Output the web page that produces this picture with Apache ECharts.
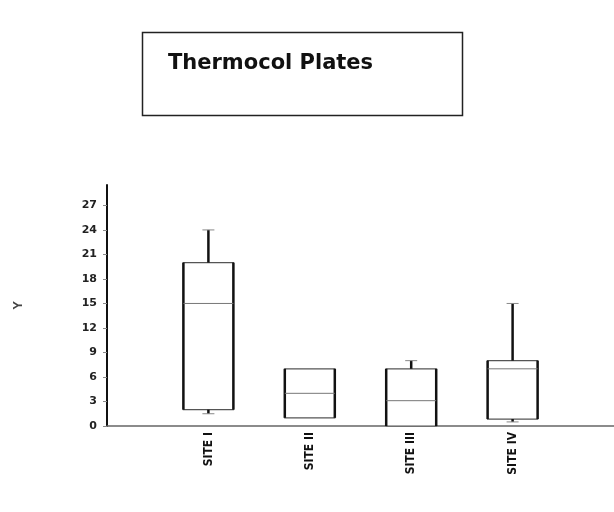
<!DOCTYPE html>
<html>
<head>
<meta charset="utf-8">
<script src="https://cdn.jsdelivr.net/npm/echarts@6/dist/echarts.min.js"></script>
<style>
  html, body { margin: 0; padding: 0; background: #fff; }
  #chart { width: 614px; height: 512px; }
</style>
</head>
<body>
<div id="chart"></div>
<script>
var chartDom = document.getElementById('chart');
var myChart = echarts.init(chartDom);

// blank slots at both ends so the sites sit where they do in the picture
var categories = ['', 'SITE I', 'SITE II', 'SITE III', 'SITE IV', ''];
var siteIndex = [1, 2, 3, 4];
var whiskerLow = [1.5, 1, 0, 0.5];
var q1 = [2, 1, 0, 0.85];
var median = [15, 4, 3.1, 7];
var q3 = [20, 7, 7, 8];
var whiskerHigh = [24, 7, 8, 15];
var yTicks = [0, 3, 6, 9, 12, 15, 18, 21, 24, 27];

var boxData = [];
for (var i = 0; i < siteIndex.length; i++) {
  boxData.push([siteIndex[i], whiskerLow[i], q1[i], median[i], q3[i], whiskerHigh[i]]);
}

function renderBox(params, api) {
  var x = api.value(0);
  var pLow = api.coord([x, api.value(1)]);
  var pQ1 = api.coord([x, api.value(2)]);
  var pMed = api.coord([x, api.value(3)]);
  var pQ3 = api.coord([x, api.value(4)]);
  var pHigh = api.coord([x, api.value(5)]);
  var cx = pQ1[0];
  var half = 25;
  var cap = 6;
  var kids = [
    { type: 'rect', shape: { x: cx - half, y: pQ3[1], width: half * 2, height: pQ1[1] - pQ3[1] },
      style: { fill: '#fff', stroke: '#555', lineWidth: 1.2 } },
    { type: 'line', shape: { x1: cx - half, y1: pQ3[1], x2: cx - half, y2: pQ1[1] },
      style: { stroke: '#111', lineWidth: 2.5 } },
    { type: 'line', shape: { x1: cx + half, y1: pQ3[1], x2: cx + half, y2: pQ1[1] },
      style: { stroke: '#111', lineWidth: 2.5 } },
    { type: 'line', shape: { x1: cx - half, y1: pMed[1], x2: cx + half, y2: pMed[1] },
      style: { stroke: '#777', lineWidth: 1 } }
  ];
  if (pHigh[1] < pQ3[1] - 0.5) {
    kids.push({ type: 'line', shape: { x1: cx, y1: pQ3[1], x2: cx, y2: pHigh[1] },
      style: { stroke: '#111', lineWidth: 2.5 } });
    kids.push({ type: 'line', shape: { x1: cx - cap, y1: pHigh[1], x2: cx + cap, y2: pHigh[1] },
      style: { stroke: '#888', lineWidth: 1 } });
  }
  if (pLow[1] > pQ1[1] + 0.5) {
    kids.push({ type: 'line', shape: { x1: cx, y1: pQ1[1], x2: cx, y2: pLow[1] },
      style: { stroke: '#111', lineWidth: 2.5 } });
    kids.push({ type: 'line', shape: { x1: cx - cap, y1: pLow[1], x2: cx + cap, y2: pLow[1] },
      style: { stroke: '#888', lineWidth: 1 } });
  }
  return { type: 'group', children: kids };
}

var option = {
  animation: false,
  backgroundColor: '#fff',
  title: {
    text: 'Thermocol Plates',
    left: 163,
    top: 48,
    textStyle: { fontFamily: 'DejaVu Sans', fontWeight: 'bold', fontSize: 21, color: '#111' }
  },
  graphic: [
    { type: 'rect', left: 140, top: 30,
      shape: { width: 320, height: 83 },
      style: { fill: 'none', stroke: '#222', lineWidth: 1.5 } }
  ],
  grid: { left: 107, right: 0, top: 185, bottom: 86 },
  xAxis: {
    type: 'category',
    data: categories,
    boundaryGap: false,
    axisLine: { lineStyle: { color: '#666', width: 1.5 } },
    axisTick: { show: false },
    axisLabel: {
      rotate: 90,
      margin: 6,
      color: '#111',
      fontWeight: 'bold',
      fontSize: 12,
      fontFamily: 'DejaVu Sans Condensed',
      interval: 0
    },
    splitLine: { show: false }
  },
  yAxis: {
    type: 'value',
    min: 0,
    max: 29.5,
    name: 'Y',
    nameLocation: 'middle',
    nameGap: 82,
    nameRotate: 90,
    nameTextStyle: { color: '#444', fontWeight: 'bold', fontSize: 13 },
    axisLine: { show: true, lineStyle: { color: '#111', width: 2 } },
    axisTick: { show: true, length: 4, customValues: yTicks, lineStyle: { color: '#888' } },
    axisLabel: {
      customValues: yTicks,
      margin: 10,
      color: '#222',
      fontWeight: 'bold',
      fontSize: 11,
      fontFamily: 'DejaVu Sans'
    },
    splitLine: { show: false }
  },
  series: [
    {
      type: 'custom',
      renderItem: renderBox,
      encode: { x: 0, y: [1, 2, 3, 4, 5] },
      data: boxData
    }
  ]
};

option && myChart.setOption(option);
</script>
</body>
</html>
